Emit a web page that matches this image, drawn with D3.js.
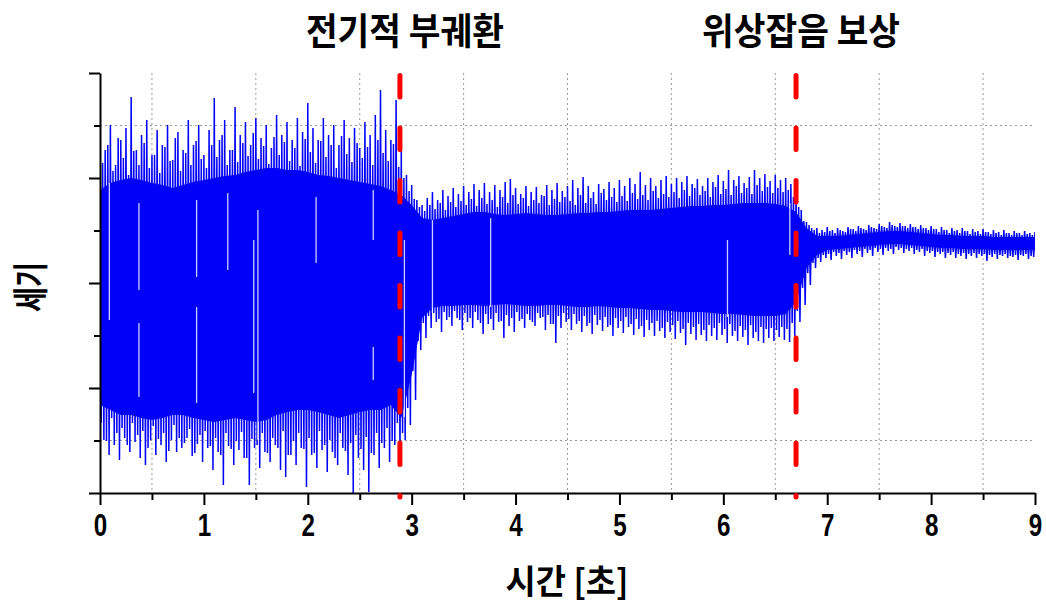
<!DOCTYPE html>
<html>
<head>
<meta charset="utf-8">
<title>세기</title>
<script src="https://cdn.jsdelivr.net/npm/d3@7"></script>
<style>
body { margin: 0; background: #fff; }
svg { display: block; }
.kr { font-family: "Noto Sans CJK KR", sans-serif; font-weight: 700; fill: #000; }
.axis path, .axis line { stroke: #000; stroke-width: 2; }
.axis text { font-family: "Liberation Sans Narrow", "Liberation Sans", Arial, sans-serif; font-weight: 700; font-size: 31px; fill: #000; }
.grid line { stroke: #9a9a9a; stroke-dasharray: 2,3; stroke-width: 1; }
</style>
</head>
<body>
<svg width="1046" height="606"></svg>
<script>

// amplitude is in arbitrary units (the y axis carries no labels)
// dense core of the signal, one value every 0.1 s from 0 to 9 s
var coreStep = 0.1;
var coreHi = [
   93,100,103,105,103,100, 98, 95, 98,101,
  103,105,107,108,111,113,115,115,113,113,
  111,108,107,105,103,101, 99, 97, 93, 88,
   78, 65, 63, 65, 67, 69, 71, 71, 69, 68,
   69, 70, 69, 68, 68, 69, 70, 70, 71, 71,
   72, 73, 73, 73, 74, 75, 76, 77, 77, 78,
   78, 79, 80, 80, 80, 79, 77, 71, 55, 47,
   47, 47, 48, 49, 50, 51, 52, 52, 51, 50,
   49, 48, 48, 47, 47, 47, 46, 46, 46, 46,
   46];
var coreLo = [
  -122,-127,-132,-132,-135,-137,-135,-132,-132,-135,
  -137,-139,-137,-135,-137,-139,-137,-132,-129,-127,
  -127,-129,-132,-135,-132,-129,-127,-127,-122,-135,
   -92, -35, -25, -23, -23, -22, -22, -23, -22, -21,
   -22, -23, -23, -22, -22, -23, -24, -24, -23, -24,
   -25, -25, -26, -27, -27, -28, -29, -29, -29, -30,
   -31, -31, -32, -33, -33, -33, -31, -19,  15,  28,
    33,  34,  35,  36,  37,  38,  39,  39,  38,  37,
    36,  35,  35,  34,  34,  34,  33,  33,  33,  33,
    33];

// large peaks (max / min), one pair every 0.05 s starting at 0 s
var peakStep = 0.05;
var peakHi = [
  171,133,158,118,143,155,186,133,148,163,
  128,153,138,158,123,151,133,163,138,158,
  128,153,185,143,163,133,176,148,161,138,
  165,145,158,135,168,148,161,143,165,151,
  180,155,143,165,148,158,138,163,145,155,
  135,161,148,168,193,153,143,183,133,108,
   98, 83, 78, 85, 91, 83, 93, 87, 95, 89,
   97, 91, 99, 93,100, 91, 98, 93,101,104,
   95, 89, 97, 91, 96, 88, 98, 93,100, 92,
   97,103, 95,106, 97, 91, 99, 94,101, 95,
  103, 97,105, 99,111, 98,105, 97,103,107,
   99,105,101,107, 99,104, 97,105,101,108,
  102,113,103,107,100,106,113,105,109,102,
  108,103,105, 99, 88, 73, 61, 55, 55, 53,
   56, 53, 55, 52, 56, 54, 57, 54, 58, 55,
   59, 56, 61, 57, 60, 57, 59, 56, 58, 55,
   57, 54, 56, 53, 55, 53, 55, 52, 54, 52,
   54, 51, 53, 51, 53, 50, 52, 50, 52, 50,
   51];
var peakLo = [
  -157,-172,-162,-177,-155,-169,-159,-175,-182,-157,
  -172,-162,-179,-157,-169,-165,-155,-173,-161,-179,
  -165,-187,-169,-202,-163,-182,-167,-175,-202,-165,
  -185,-169,-179,-162,-187,-194,-172,-182,-165,-204,
  -172,-185,-167,-189,-169,-182,-165,-192,-210,-175,
  -187,-209,-172,-185,-165,-179,-162,-172,-157,-142,
  -117, -67, -55, -45, -39, -49, -37, -43, -35, -47,
   -39, -45, -37, -51, -41, -47, -39, -55, -43, -49,
   -38, -45, -37, -43, -35, -47, -41, -60, -45, -39,
   -47, -41, -49, -43, -51, -42, -48, -44, -53, -45,
   -50, -44, -52, -46, -54, -47, -53, -48, -55, -49,
   -56, -50, -62, -51, -57, -52, -58, -53, -57, -52,
   -60, -53, -58, -54, -62, -55, -58, -60, -55, -58,
   -54, -57, -59, -53, -39, -22,  -2,  15,  21,  25,
    23,  27,  24,  28,  25,  29,  26,  30,  27,  31,
    28,  32,  29,  33,  30,  32,  29,  31,  27,  30,
    26,  29,  25,  28,  25,  27,  24,  27,  25,  27,
    22,  26,  24,  27,  25,  26,  23,  27,  24,  26,
    23];

// smaller peaks in between, one pair every 0.05 s starting at 0.025 s
var midHi = [
  120,138,112,145,125,108,132,118,140,115,
  128,110,136,122,145,112,130,118,142,124,
  115,138,126,148,118,133,121,140,127,150,
  124,137,119,146,128,141,122,135,117,144,
  131,120,142,126,138,115,147,129,121,140,
  125,136,118,143,130,122,139,116,105, 92,
   84, 76, 72, 78, 74, 80, 73, 81, 76, 82,
   78, 84, 77, 85, 79, 83, 76, 86, 80, 88,
   79, 85, 77, 83, 80, 87, 78, 84, 81, 86,
   82, 78, 88, 80, 85, 79, 90, 83, 86, 81,
   87, 82, 90, 84, 88, 83, 92, 85, 89, 86,
   91, 85, 93, 87, 95, 88, 92, 86, 96, 89,
   94, 88, 97, 90, 95, 89, 98, 92, 96, 90,
   95, 91, 93, 86, 76, 62, 58, 53, 50, 51,
   52, 50, 53, 51, 54, 52, 55, 53, 56, 54,
   57, 55, 58, 56, 57, 55, 56, 54, 55, 53,
   54, 51, 53, 50, 52, 50, 52, 49, 51, 49,
   51, 49, 50, 48, 50, 48, 50, 48, 49, 48];
var midLo = [
  -140,-158,-135,-150,-145,-162,-140,-152,-148,-165,
  -143,-156,-150,-168,-142,-155,-160,-146,-170,-152,
  -148,-163,-155,-172,-150,-166,-158,-149,-175,-156,
  -162,-150,-170,-155,-165,-148,-172,-158,-150,-166,
  -155,-170,-148,-162,-157,-175,-150,-168,-160,-152,
  -166,-154,-170,-150,-160,-145,-158,-140,-150,-125,
   -88, -58, -40, -33, -30, -36, -29, -34, -28, -37,
   -30, -35, -29, -40, -31, -36, -30, -38, -32, -35,
   -29, -36, -31, -39, -30, -34, -32, -41, -33, -30,
   -36, -31, -38, -33, -40, -32, -37, -34, -42, -35,
   -38, -34, -41, -36, -43, -37, -40, -38, -45, -39,
   -42, -38, -46, -40, -44, -41, -47, -42, -45, -40,
   -46, -41, -48, -43, -47, -42, -49, -44, -46, -45,
   -47, -44, -46, -40, -28,  -5,  10,  20,  25,  28,
    29,  31,  30,  32,  31,  33,  32,  34,  33,  35,
    34,  35,  34,  36,  35,  34,  35,  33,  34,  32,
    32,  31,  31,  30,  31,  29,  30,  29,  30,  29,
    29,  28,  29,  28,  29,  27,  28,  28,  29,  27];

// light streaks inside the dense part of the trace
var gapTime = [0.09, 0.375, 0.375, 0.93, 0.93, 1.23, 1.48, 1.52, 2.08, 2.63, 2.63, 2.93, 3.2, 3.76, 6.04, 6.64];
var gapHi   = [ 100,    80,   -40,   83,  -24,   90,   43,   73,   86,   93,  -64,   43,  63,   65,   43,   80];
var gapLo   = [ -37,    -7,  -114,    6, -120,   13, -110, -157,   20,   43,  -97, -134, -30,  -24,  -34,   28];

// event markers
var markerTime = [2.887, 6.70];
var markerLabel = ["전기적 부궤환", "위상잡음 보상"];

var xMajor = [0, 1, 2, 3, 4, 5, 6, 7, 8, 9],
    xMinor = [0.5, 1.5, 2.5, 3.5, 4.5, 5.5, 6.5, 7.5, 8.5],
    yMajor = [-210, -105, 0, 105, 210],
    yMinor = [-157.5, -52.5, 52.5, 157.5],
    yGrid = [-157.5, 157.5];

var svg = d3.select("svg"),
    margin = {top: 73, right: 11, bottom: 113, left: 100},
    width = +svg.attr("width") - margin.left - margin.right,
    height = +svg.attr("height") - margin.top - margin.bottom,
    g = svg.append("g").attr("transform", "translate(" + margin.left + "," + margin.top + ")");

var x = d3.scaleLinear().domain([0, 9]).range([0, width]);
var y = d3.scaleLinear().domain([-210, 210]).range([height, 0]);

svg.append("defs").append("clipPath").attr("id", "plot")
  .append("rect").attr("x", 0).attr("y", -5).attr("width", width).attr("height", height + 5);

// dotted grid
var grid = g.append("g").attr("class", "grid");
grid.selectAll(".gx").data(xMinor).join("line")
    .attr("x1", function(d) { return x(d); }).attr("x2", function(d) { return x(d); })
    .attr("y1", 0).attr("y2", height);
grid.selectAll(".gy").data(yGrid).join("line")
    .attr("x1", 0).attr("x2", width)
    .attr("y1", function(d) { return y(d); }).attr("y2", function(d) { return y(d); });

// the signal: solid core, oscillating trace over it, then the light streaks
var sig = g.append("g").attr("clip-path", "url(#plot)");
var blue = "#0000f8";

var core = d3.area()
    .x(function(d, i) { return x(i * coreStep); })
    .y0(function(d, i) { return y(coreLo[i]); })
    .y1(function(d) { return y(d); });

sig.append("path")
    .datum(coreHi)
    .attr("d", core)
    .attr("fill", blue);

// the trace swings max -> min -> max -> min inside each 0.05 s step
var q = peakStep / 4, trace = [];
peakHi.forEach(function(v, i) {
  var t = i * peakStep;
  trace.push([t, v]);
  if (i < midHi.length) {
    trace.push([t + q, midLo[i]]);
    trace.push([t + 2 * q, midHi[i]]);
  }
  trace.push([t + 3 * q, peakLo[i]]);
});

sig.append("path")
    .datum(trace)
    .attr("d", d3.line()
      .x(function(d) { return x(d[0]); })
      .y(function(d) { return y(d[1]); }))
    .attr("fill", "none")
    .attr("stroke", blue)
    .attr("stroke-width", 1.5);

sig.selectAll("line.gap").data(gapTime).join("line")
    .attr("class", "gap")
    .attr("x1", function(d) { return x(d); })
    .attr("x2", function(d) { return x(d); })
    .attr("y1", function(d, i) { return y(gapHi[i]); })
    .attr("y2", function(d, i) { return y(gapLo[i]); })
    .attr("stroke", "#fff")
    .attr("stroke-opacity", 0.8)
    .attr("stroke-width", 1.3);

// axes
var xAxis = g.append("g")
    .attr("class", "axis")
    .attr("transform", "translate(0," + height + ")")
    .call(d3.axisBottom(x).tickValues(xMajor).tickSize(12).tickSizeOuter(0).tickPadding(9).tickFormat(d3.format("d")));
xAxis.selectAll("text").attr("transform", "scale(0.78,1)");

g.append("g")
    .attr("class", "axis")
    .attr("transform", "translate(0," + height + ")")
    .call(d3.axisBottom(x).tickValues(xMinor).tickSize(7).tickFormat(""))
    .select(".domain").remove();

g.append("g")
    .attr("class", "axis")
    .call(d3.axisLeft(y).tickValues(yMajor).tickSize(11).tickSizeOuter(0).tickFormat(""));

g.append("g")
    .attr("class", "axis")
    .call(d3.axisLeft(y).tickValues(yMinor).tickSize(6).tickFormat(""))
    .select(".domain").remove();

// red dashed event lines and their titles
g.selectAll(".marker").data(markerTime).join("line")
    .attr("x1", function(d) { return x(d); })
    .attr("x2", function(d) { return x(d); })
    .attr("y1", 2.5)
    .attr("y2", height + 4)
    .attr("stroke", "#ff0000")
    .attr("stroke-width", 5)
    .attr("stroke-linecap", "round")
    .attr("stroke-dasharray", "21.5,31");

svg.selectAll(".title").data(markerTime).join("text")
    .attr("class", "kr")
    .attr("x", function(d) { return margin.left + x(d) + 5; })
    .attr("y", 45)
    .attr("text-anchor", "middle")
    .attr("font-size", 37)
    .attr("textLength", 198)
    .attr("lengthAdjust", "spacingAndGlyphs")
    .text(function(d, i) { return markerLabel[i]; });

// axis titles
svg.append("text")
    .attr("class", "kr")
    .attr("x", 567)
    .attr("y", 594)
    .attr("text-anchor", "middle")
    .attr("font-size", 34)
    .attr("textLength", 123)
    .attr("lengthAdjust", "spacingAndGlyphs")
    .text("시간 [초]");

svg.append("text")
    .attr("class", "kr")
    .attr("transform", "translate(44,287) rotate(-90)")
    .attr("text-anchor", "middle")
    .attr("font-size", 36)
    .attr("textLength", 50)
    .attr("lengthAdjust", "spacingAndGlyphs")
    .text("세기");

</script>
</body>
</html>
